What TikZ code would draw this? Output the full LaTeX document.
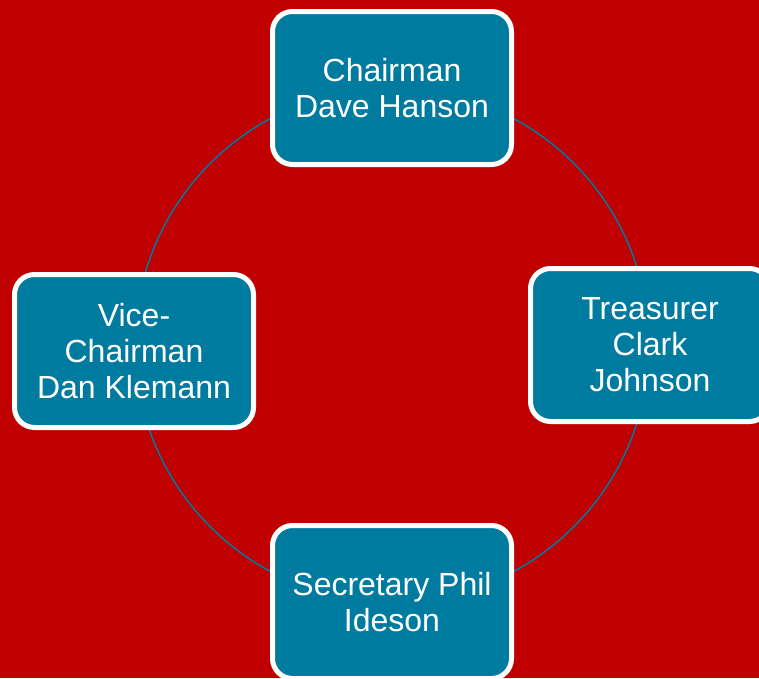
\documentclass[tikz,border=0pt]{standalone}
\usepackage{fontspec}
\setmainfont{Liberation Sans}
\definecolor{bgred}{RGB}{192,0,0}
\definecolor{teal}{RGB}{0,123,160}
\tikzset{
  rolebox/.style={draw=white, line width=5pt, fill=teal, rounded corners=20pt,
    minimum width=239pt, minimum height=153pt, text=white, align=center,
    font=\fontsize{32}{36}\selectfont, inner sep=0pt},
  ring/.style={draw=teal, line width=1.5pt}
}
\begin{document}
\begin{tikzpicture}[x=1pt,y=-1pt]
\useasboundingbox (0,0) rectangle (759,678);
\clip (0,0) rectangle (759,678);
\fill[bgred] (0,0) rectangle (759,678);
\coordinate (c) at (392,345);
\draw[ring] (c) circle[radius=257pt];
\node[rolebox] (chair) at (392,88) {Chairman\\Dave Hanson};
\node[rolebox] (treas) at (650,345) {Treasurer\\Clark\\Johnson};
\node[rolebox] (vice) at (134,351) {Vice-\\Chairman\\Dan Klemann};
\node[rolebox] (secr) at (392,602) {Secretary Phil\\Ideson};
\end{tikzpicture}
\end{document}
